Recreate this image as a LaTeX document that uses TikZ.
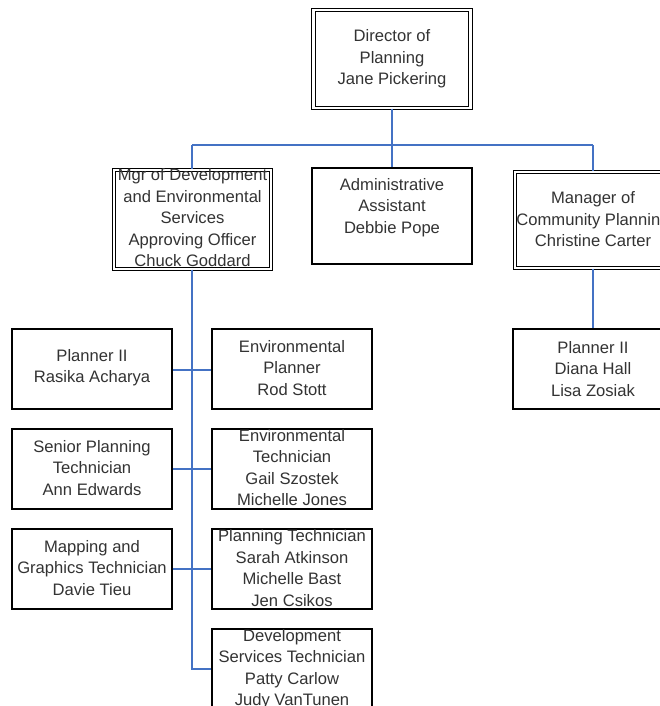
\documentclass[tikz,border=0pt]{standalone}
\usepackage{fontspec}
\setmainfont{Liberation Sans}
\begin{document}
\begin{tikzpicture}[x=1pt,y=-1pt,
  box/.style={draw=black, line width=1.2pt, fill=white, inner sep=0pt},
  dbox/.style={draw=black, line width=1.1pt, double=white, double distance=2.2pt, fill=white, inner sep=0pt},
  txt/.style={text=black!80, align=center, inner sep=0pt,
    font=\fontsize{16.6}{21.5}\selectfont},
  link/.style={draw={rgb,255:red,68;green,114;blue,196}, line width=1.6pt}]
\useasboundingbox (0,0) rectangle (660,706);
\clip (0,0) rectangle (660,706);

% top level
\node[dbox, minimum width=157pt, minimum height=98pt] (dir) at (392,59) {};
\node[txt] (dirT) at (392,59) {Director of\\Planning\\Jane Pickering};

% second level
\node[dbox, minimum width=157pt, minimum height=99pt] (mgr) at (192.5,219.5) {};
\node[box, minimum width=160pt, minimum height=96pt] (adm) at (392,216) {};
\node[dbox, minimum width=156pt, minimum height=96pt] (mcp) at (593,220) {};

% left column under development manager
\node[box, minimum width=160pt, minimum height=80pt] (l1) at (92,369) {};
\node[box, minimum width=160pt, minimum height=80pt] (l2) at (92,469) {};
\node[box, minimum width=160pt, minimum height=80pt] (l3) at (92,569) {};

% right column under development manager
\node[box, minimum width=160pt, minimum height=80pt] (r1) at (292,369) {};
\node[box, minimum width=160pt, minimum height=80pt] (r2) at (292,469) {};
\node[box, minimum width=160pt, minimum height=80pt] (r3) at (292,569) {};
\node[box, minimum width=160pt, minimum height=80pt] (r4) at (292,669) {};

% under community planning
\node[box, minimum width=160pt, minimum height=80pt] (cp1) at (593,369) {};

% connectors
\coordinate (bus) at (392,145);
\coordinate (busL) at (192,145);
\coordinate (busR) at (593,145);
\coordinate (spineEnd) at (192,669);
\draw[link] (dir.south) -- (bus);
\draw[link] (busL) -- (busR);
\draw[link] (busL) -- (busL |- mgr.north);
\draw[link] (bus) -- (adm.north);
\draw[link] (busR) -- (mcp.north);
\draw[link] (mgr.south -| spineEnd) -- (spineEnd) -- (r4.west |- spineEnd);
\draw[link] (l1.east |- 0,370) -- (r1.west |- 0,370);
\draw[link] (l2.east |- 0,469) -- (r2.west |- 0,469);
\draw[link] (l3.east |- 0,569) -- (r3.west |- 0,569);
\draw[link] (mcp.south) -- (cp1.north);

% labels
\node[txt] (mgrT) at (192.5,218) {Mgr of Development\\and Environmental\\Services\\Approving Officer\\Chuck Goddard};
\node[txt] (admT) at (392,207.5) {Administrative\\Assistant\\Debbie Pope};
\node[txt] (mcpT) at (593,219.5) {Manager of\\Community Planning\\Christine Carter};
\node[txt] (l1T) at (92,367.5) {Planner II\\Rasika Acharya};
\node[txt] (l2T) at (92,468) {Senior Planning\\Technician\\Ann Edwards};
\node[txt] (l3T) at (92,568) {Mapping and\\Graphics Technician\\Davie Tieu};
\node[txt] (r1T) at (292,368) {Environmental\\Planner\\Rod Stott};
\node[txt] (r2T) at (292,467.5) {Environmental\\Technician\\Gail Szostek\\Michelle Jones};
\node[txt] (r3T) at (292,568) {Planning Technician\\Sarah Atkinson\\Michelle Bast\\Jen Csikos};
\node[txt] (r4T) at (292,669) {Development\\Services Technician\\Patty Carlow\\Judy VanTunen};
\node[txt] (cp1T) at (593,369) {Planner II\\Diana Hall\\Lisa Zosiak};
\end{tikzpicture}
\end{document}
